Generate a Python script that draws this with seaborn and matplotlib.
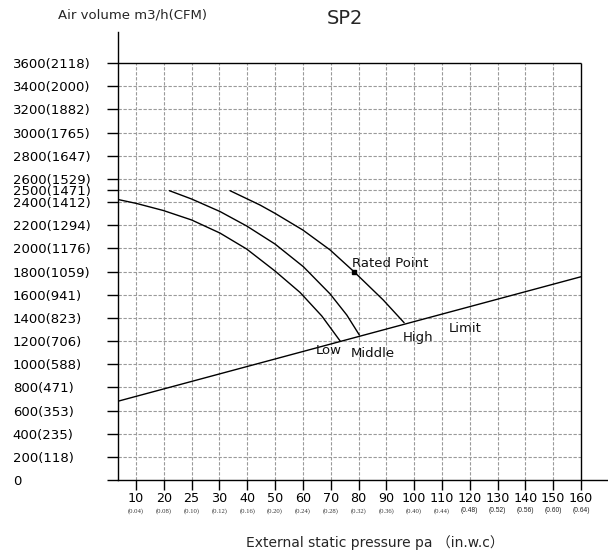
import numpy as np
import pandas as pd
import seaborn as sns
import matplotlib.pyplot as plt

# Axis ticks
pa_ticks = [10, 20, 25, 30, 40, 50, 60, 70, 80, 90, 100, 110, 120, 130, 140, 150, 160]
inwc_labels = ["(0.04)", "(0.08)", "(0.10)", "(0.12)", "(0.16)", "(0.20)", "(0.24)",
               "(0.28)", "(0.32)", "(0.36)", "(0.40)", "(0.44)", "(0.48)", "(0.52)",
               "(0.56)", "(0.60)", "(0.64)"]
m3h_ticks = [0, 200, 400, 600, 800, 1000, 1200, 1400, 1600, 1800, 2000, 2200,
             2400, 2500, 2600, 2800, 3000, 3200, 3400, 3600]
cfm_ticks = [0, 118, 235, 353, 471, 588, 706, 823, 941, 1059, 1176, 1294,
             1412, 1471, 1529, 1647, 1765, 1882, 2000, 2118]

# Fan curves (pa, m3/h)
low_pa = [3.3, 10.3, 19.8, 25.0, 30.2, 39.8, 50.0, 59.0, 66.8, 73.4]
low_m3h = [2423, 2387, 2327, 2245, 2132, 1994, 1804, 1619, 1416, 1200]
mid_pa = [21.0, 25.0, 30.2, 39.8, 50.0, 60.2, 69.8, 75.8, 80.3]
mid_m3h = [2498, 2426, 2318, 2193, 2037, 1841, 1606, 1424, 1252]
high_pa = [33.8, 44.6, 50.0, 60.0, 69.8, 78.4, 88.9, 96.4]
high_m3h = [2498, 2374, 2302, 2158, 1986, 1798, 1554, 1358]
limit_pa = [3.5, 160]
limit_m3h = [680, 1755]
rated_pa = [78.4]
rated_m3h = [1800]

# x axis is evenly spaced per tick, not linear in pa
pa_knots = [0] + pa_ticks + [170]
pos_knots = list(range(-1, len(pa_ticks) + 1))


def fwd(v):
    return np.interp(v, pa_knots, pos_knots)


def inv(p):
    return np.interp(p, pos_knots, pa_knots)


sns.set_style("ticks")
plt.rcParams["font.family"] = ["DejaVu Sans", "Noto Sans CJK SC"]

fig = plt.figure(figsize=(6.08, 5.56), dpi=100)
ax = fig.add_axes([118 / 608, 76 / 556, 490 / 608, 448 / 556])
ax.set_xscale("function", functions=(fwd, inv))
x_left = 3.53
ax.set_xlim(x_left, 169.7)
ax.set_ylim(0, 3868)

# grid + frame
grid_kw = dict(color="#9a9a9a", lw=0.8, linestyles=(0, (3, 1.5)), zorder=1)
ax.hlines(m3h_ticks[1:-1], x_left, pa_ticks[-1], **grid_kw)
ax.vlines(pa_ticks[:-1], 0, m3h_ticks[-1], **grid_kw)
ax.hlines(m3h_ticks[-1], x_left, pa_ticks[-1], color="black", lw=1.0, zorder=2)
ax.vlines(pa_ticks[-1], 0, m3h_ticks[-1], color="black", lw=1.0, zorder=2)

# curves
line_kw = dict(color="black", linewidth=1.0, sort=False, estimator=None, ax=ax, zorder=3)
sns.lineplot(x=low_pa, y=low_m3h, **line_kw)
sns.lineplot(x=mid_pa, y=mid_m3h, **line_kw)
sns.lineplot(x=high_pa, y=high_m3h, **line_kw)
sns.lineplot(x=limit_pa, y=limit_m3h, **line_kw)
ax.plot(rated_pa, rated_m3h, "s", color="black", markersize=3, zorder=4)

txt = dict(fontsize=9.5, color="#111111", va="center", ha="left")
ax.text(77.5, 1873, "Rated Point", **txt)
ax.text(64.6, 1114, "Low", **txt)
ax.text(77.2, 1088, "Middle", **txt)
ax.text(95.8, 1229, "High", **txt)
ax.text(112.5, 1306, "Limit", **txt)

# ticks
ax.set_xticks(pa_ticks, labels=[str(v) for v in pa_ticks])
ylabels = ["0"] + [f"{m}({c})" for m, c in zip(m3h_ticks[1:], cfm_ticks[1:])]
ax.set_yticks(m3h_ticks, labels=ylabels)
ax.minorticks_off()
for lab in ax.get_yticklabels():
    lab.set_horizontalalignment("left")
ax.tick_params(axis="y", direction="out", length=8, width=1.0, pad=67.7,
               labelsize=9.5, colors="black")
ax.tick_params(axis="x", direction="out", length=7.2, width=1.0, pad=1.5,
               labelsize=9.2, colors="black")

for v, lab in zip(pa_ticks, inwc_labels):
    if v <= 110:
        ax.text(v, -0.069, lab, transform=ax.get_xaxis_transform(), ha="center",
                va="center", fontsize=4.8, family="Liberation Serif", color="#333333")
    else:
        ax.text(v, -0.069, lab, transform=ax.get_xaxis_transform(), ha="center",
                va="center", fontsize=4.8, family="Liberation Sans", color="#222222")

for side in ["top", "right"]:
    ax.spines[side].set_visible(False)
for side in ["left", "bottom"]:
    ax.spines[side].set_linewidth(1.0)
    ax.spines[side].set_color("black")

fig.text(58 / 608, 1 - 15 / 556, "Air volume m3/h(CFM)", fontsize=9.5, va="center", ha="left")
fig.text(345 / 608, 1 - 18 / 556, "SP2", fontsize=14, va="center", ha="center")
fig.text(375 / 608, 1 - 543 / 556, "External static pressure pa （in.w.c）",
         fontsize=10, va="center", ha="center")

fig.savefig("out.png", dpi=100)
